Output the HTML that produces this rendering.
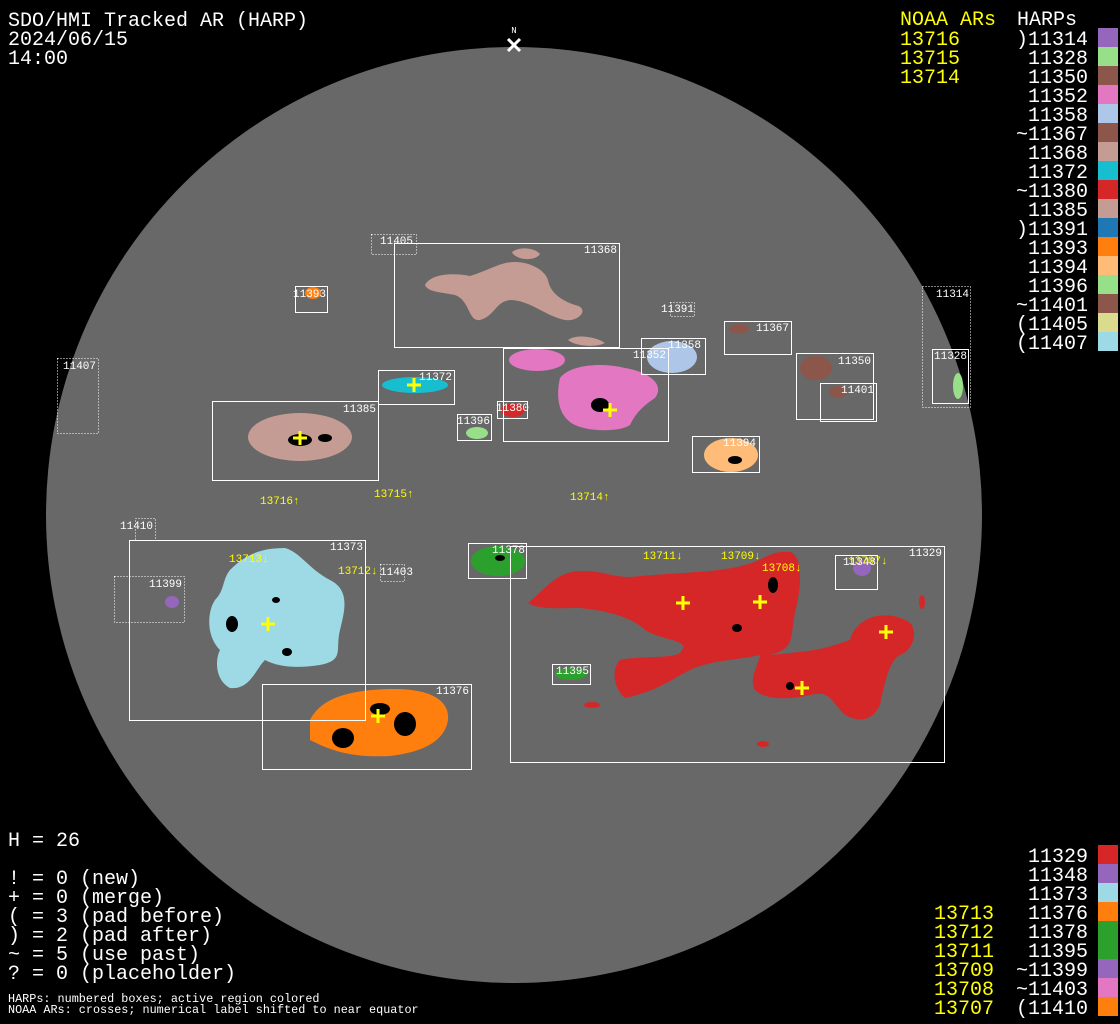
<!DOCTYPE html>
<html><head><meta charset="utf-8"><style>
html,body{margin:0;padding:0;background:#000;width:1120px;height:1024px;overflow:hidden}
svg{display:block}
text{font-family:"Liberation Mono","DejaVu Sans Mono",monospace}
</style></head><body>
<svg width="1120" height="1024" viewBox="0 0 1120 1024" xmlns="http://www.w3.org/2000/svg">
<rect width="1120" height="1024" fill="#000"/>
<circle cx="514" cy="515" r="468" fill="#686868"/>
<text x="514" y="33" fill="#fff" font-size="9" text-anchor="middle">N</text>
<path d="M508,39 L520,51 M520,39 L508,51" stroke="#fff" stroke-width="3"/>

<g>
<path d="M425,285 C430,275 450,272 470,276 C490,270 500,262 515,262 C530,262 545,270 548,280 C550,292 560,300 575,305 C590,308 580,322 565,320 C545,316 530,300 510,300 C495,302 495,316 480,320 C468,322 470,300 455,295 C440,292 428,292 425,285 Z M512,252 C520,246 535,248 540,254 C535,262 515,260 512,252 Z" fill="#c49c94"/>
<path d="M568,340 C575,334 595,336 605,343 C595,348 575,346 568,340 Z" fill="#c49c94"/>
<ellipse cx="300" cy="437" rx="52" ry="24" fill="#c49c94"/>
<ellipse cx="415" cy="385" rx="33" ry="8" fill="#17becf"/>
<ellipse cx="537" cy="360" rx="28" ry="11" fill="#e377c2"/>
<path d="M560,378 C570,365 600,362 625,368 C650,372 665,385 655,398 C640,408 635,415 630,425 C620,432 590,432 575,425 C560,418 555,400 560,378 Z" fill="#e377c2"/>
<ellipse cx="672" cy="357" rx="25" ry="16" fill="#aec7e8"/>
<ellipse cx="739" cy="329" rx="10" ry="5" fill="#8c564b"/>
<ellipse cx="816" cy="368" rx="16" ry="12" fill="#8c564b"/>
<ellipse cx="838" cy="392" rx="9" ry="6" fill="#8c564b"/>
<ellipse cx="958" cy="386" rx="5" ry="13" fill="#98df8a"/>
<ellipse cx="513" cy="410" rx="12" ry="7" fill="#d62728"/>
<ellipse cx="477" cy="433" rx="11" ry="6" fill="#98df8a"/>
<ellipse cx="731" cy="455" rx="27" ry="17" fill="#ffbb78"/>
<ellipse cx="313" cy="293" rx="8" ry="6" fill="#ff7f0e"/>
<ellipse cx="172" cy="602" rx="7" ry="6" fill="#9467bd"/>
<ellipse cx="862" cy="568" rx="9" ry="8" fill="#9467bd"/>
<ellipse cx="498" cy="561" rx="27" ry="15" fill="#2ca02c"/>
<ellipse cx="571" cy="674" rx="16" ry="6" fill="#2ca02c"/>
<path d="M230,570 C245,555 260,548 285,548 C300,552 310,570 330,580 C350,590 345,610 340,630 C335,650 345,660 320,665 C300,668 280,668 265,660 C255,670 250,690 230,688 C215,680 215,660 220,650 C205,635 208,610 215,600 C225,590 222,580 230,570 Z" fill="#9edae5"/>
<path d="M310,720 C320,700 345,690 390,689 C430,688 450,700 448,720 C445,740 425,752 390,756 C350,758 330,750 310,740 Z" fill="#ff7f0e"/>
<path d="M528,603 C545,590 555,572 580,571 C605,570 615,580 640,576 C690,572 720,572 745,565 C765,560 770,550 790,552 C805,556 800,595 795,612 C790,640 795,648 770,655 C820,650 820,650 850,640 C855,620 880,608 905,620 C920,625 915,650 900,655 C890,660 885,680 880,705 C870,725 855,720 845,715 C830,700 830,690 810,695 C790,700 765,700 755,690 C748,680 760,660 760,655 C740,660 710,660 690,670 C670,680 660,690 625,698 C615,690 610,670 620,660 C640,655 680,660 682,650 C690,640 660,640 645,630 C630,615 600,610 580,608 C560,608 540,610 528,603 Z" fill="#d62728"/>
<ellipse cx="922" cy="602" rx="3" ry="7" fill="#d62728"/>
<ellipse cx="592" cy="705" rx="8" ry="3" fill="#d62728"/>
<ellipse cx="763" cy="744" rx="6" ry="3" fill="#d62728"/>
</g>
<g fill="#000">
<ellipse cx="300" cy="440" rx="12" ry="6"/><ellipse cx="325" cy="438" rx="7" ry="4"/>
<ellipse cx="232" cy="624" rx="6" ry="8"/><ellipse cx="287" cy="652" rx="5" ry="4"/><ellipse cx="276" cy="600" rx="4" ry="3"/>
<ellipse cx="343" cy="738" rx="11" ry="10"/><ellipse cx="405" cy="724" rx="11" ry="12"/><ellipse cx="380" cy="709" rx="10" ry="6"/>
<ellipse cx="773" cy="585" rx="5" ry="8"/><ellipse cx="737" cy="628" rx="5" ry="4"/><ellipse cx="790" cy="686" rx="4" ry="4"/>
<ellipse cx="600" cy="405" rx="9" ry="7"/><ellipse cx="735" cy="460" rx="7" ry="4"/><ellipse cx="500" cy="558" rx="5" ry="3"/>
</g>
<g fill="none" stroke="#fff" stroke-width="1">
<rect x="394.5" y="243.5" width="225" height="104"/>
<rect x="295.5" y="286.5" width="32" height="26"/>
<rect x="724.5" y="321.5" width="67" height="33"/>
<rect x="641.5" y="338.5" width="64" height="36"/>
<rect x="503.5" y="348.5" width="165" height="93"/>
<rect x="378.5" y="370.5" width="76" height="34"/>
<rect x="212.5" y="401.5" width="166" height="79"/>
<rect x="497.5" y="401.5" width="30" height="17"/>
<rect x="457.5" y="414.5" width="34" height="26"/>
<rect x="796.5" y="353.5" width="77" height="66"/>
<rect x="820.5" y="383.5" width="56" height="38"/>
<rect x="932.5" y="349.5" width="36" height="54"/>
<rect x="692.5" y="436.5" width="67" height="36"/>
<rect x="129.5" y="540.5" width="236" height="180"/>
<rect x="468.5" y="543.5" width="58" height="35"/>
<rect x="510.5" y="546.5" width="434" height="216"/>
<rect x="835.5" y="555.5" width="42" height="34"/>
<rect x="552.5" y="664.5" width="38" height="20"/>
<rect x="262.5" y="684.5" width="209" height="85"/>
</g>
<g fill="none" stroke="#fff" stroke-width="1" stroke-dasharray="1,2">
<rect x="371.5" y="234.5" width="45" height="20"/>
<rect x="670.5" y="302.5" width="24" height="14"/>
<rect x="922.5" y="286.5" width="48" height="121"/>
<rect x="57.5" y="358.5" width="41" height="75"/>
<rect x="135.5" y="518.5" width="20" height="22"/>
<rect x="114.5" y="576.5" width="70" height="46"/>
<rect x="380.5" y="564.5" width="24" height="17"/>
</g>
<g fill="#fff" font-size="11">
<text x="584" y="253">11368</text><text x="380" y="244">11405</text><text x="293" y="297">11393</text>
<text x="661" y="312">11391</text><text x="756" y="331">11367</text><text x="668" y="348">11358</text>
<text x="633" y="358">11352</text><text x="419" y="380">11372</text><text x="343" y="412">11385</text>
<text x="496" y="411">11380</text><text x="457" y="424">11396</text><text x="838" y="364">11350</text>
<text x="841" y="393">11401</text><text x="936" y="297">11314</text><text x="934" y="359">11328</text>
<text x="723" y="446">11394</text><text x="63" y="369">11407</text><text x="120" y="529">11410</text>
<text x="330" y="550">11373</text><text x="149" y="587">11399</text><text x="380" y="575">11403</text>
<text x="492" y="553">11378</text><text x="909" y="556">11329</text><text x="843" y="565">11348</text>
<text x="556" y="674">11395</text><text x="436" y="694">11376</text>
</g>
<g fill="#ffff00" font-size="11">
<text x="260" y="504">13716↑</text><text x="374" y="497">13715↑</text><text x="570" y="500">13714↑</text>
<text x="229" y="562">13713↓</text><text x="338" y="574">13712↓</text><text x="643" y="559">13711↓</text>
<text x="721" y="559">13709↓</text><text x="762" y="571">13708↓</text><text x="848" y="564">13707↓</text>
</g>
<g stroke="#ffff00" stroke-width="3">
<path d="M293,438h14M300,431v14"/><path d="M407,385h14M414,378v14"/><path d="M603,410h14M610,403v14"/>
<path d="M261,624h14M268,617v14"/><path d="M371,716h14M378,709v14"/><path d="M676,603h14M683,596v14"/>
<path d="M753,602h14M760,595v14"/><path d="M879,632h14M886,625v14"/><path d="M795,688h14M802,681v14"/>
</g>
<g fill="#fff" font-size="20">
<text x="8" y="26">SDO/HMI Tracked AR (HARP)</text>
<text x="8" y="45">2024/06/15</text>
<text x="8" y="64">14:00</text>
<text x="8" y="846">H = 26</text>
<text x="8" y="884">! = 0 (new)</text>
<text x="8" y="903">+ = 0 (merge)</text>
<text x="8" y="922">( = 3 (pad before)</text>
<text x="8" y="941">) = 2 (pad after)</text>
<text x="8" y="960">~ = 5 (use past)</text>
<text x="8" y="979">? = 0 (placeholder)</text>
</g>
<g fill="#fff" font-size="11.8">
<text x="8" y="1002">HARPs: numbered boxes; active region colored</text>
<text x="8" y="1013">NOAA ARs: crosses; numerical label shifted to near equator</text>
</g>
<g fill="#ffff00" font-size="20">
<text x="900" y="25">NOAA ARs</text>
<text x="900" y="45">13716</text><text x="900" y="64">13715</text><text x="900" y="83">13714</text>
</g>
<text x="1017" y="25" fill="#fff" font-size="20">HARPs</text>
<g fill="#fff" font-size="20" text-anchor="end">
<text x="1088" y="45">)11314</text><text x="1088" y="64">11328</text><text x="1088" y="83">11350</text>
<text x="1088" y="102">11352</text><text x="1088" y="121">11358</text><text x="1088" y="140">~11367</text>
<text x="1088" y="159">11368</text><text x="1088" y="178">11372</text><text x="1088" y="197">~11380</text>
<text x="1088" y="216">11385</text><text x="1088" y="235">)11391</text><text x="1088" y="254">11393</text>
<text x="1088" y="273">11394</text><text x="1088" y="292">11396</text><text x="1088" y="311">~11401</text>
<text x="1088" y="330">(11405</text><text x="1088" y="349">(11407</text>
</g>
<g>
<rect x="1098" y="28" width="20" height="19" fill="#9467bd"/><rect x="1098" y="47" width="20" height="19" fill="#98df8a"/>
<rect x="1098" y="66" width="20" height="19" fill="#8c564b"/><rect x="1098" y="85" width="20" height="19" fill="#e377c2"/>
<rect x="1098" y="104" width="20" height="19" fill="#aec7e8"/><rect x="1098" y="123" width="20" height="19" fill="#8c564b"/>
<rect x="1098" y="142" width="20" height="19" fill="#c49c94"/><rect x="1098" y="161" width="20" height="19" fill="#17becf"/>
<rect x="1098" y="180" width="20" height="19" fill="#d62728"/><rect x="1098" y="199" width="20" height="19" fill="#c49c94"/>
<rect x="1098" y="218" width="20" height="19" fill="#1f77b4"/><rect x="1098" y="237" width="20" height="19" fill="#ff7f0e"/>
<rect x="1098" y="256" width="20" height="19" fill="#ffbb78"/><rect x="1098" y="275" width="20" height="19" fill="#98df8a"/>
<rect x="1098" y="294" width="20" height="19" fill="#8c564b"/><rect x="1098" y="313" width="20" height="19" fill="#dbdb8d"/>
<rect x="1098" y="332" width="20" height="19" fill="#9edae5"/>
</g>
<g fill="#fff" font-size="20" text-anchor="end">
<text x="1088" y="862">11329</text><text x="1088" y="881">11348</text><text x="1088" y="900">11373</text>
<text x="1088" y="919">11376</text><text x="1088" y="938">11378</text><text x="1088" y="957">11395</text>
<text x="1088" y="976">~11399</text><text x="1088" y="995">~11403</text><text x="1088" y="1014">(11410</text>
</g>
<g fill="#ffff00" font-size="20">
<text x="934" y="919">13713</text><text x="934" y="938">13712</text><text x="934" y="957">13711</text>
<text x="934" y="976">13709</text><text x="934" y="995">13708</text><text x="934" y="1014">13707</text>
</g>
<g>
<rect x="1098" y="845" width="20" height="19" fill="#d62728"/><rect x="1098" y="864" width="20" height="19" fill="#9467bd"/>
<rect x="1098" y="883" width="20" height="19" fill="#9edae5"/><rect x="1098" y="902" width="20" height="19" fill="#ff7f0e"/>
<rect x="1098" y="921" width="20" height="19" fill="#2ca02c"/><rect x="1098" y="940" width="20" height="19" fill="#2ca02c"/>
<rect x="1098" y="959" width="20" height="19" fill="#9467bd"/><rect x="1098" y="978" width="20" height="19" fill="#e377c2"/>
<rect x="1098" y="997" width="20" height="19" fill="#ff7f0e"/>
</g>
</svg>
</body></html>
